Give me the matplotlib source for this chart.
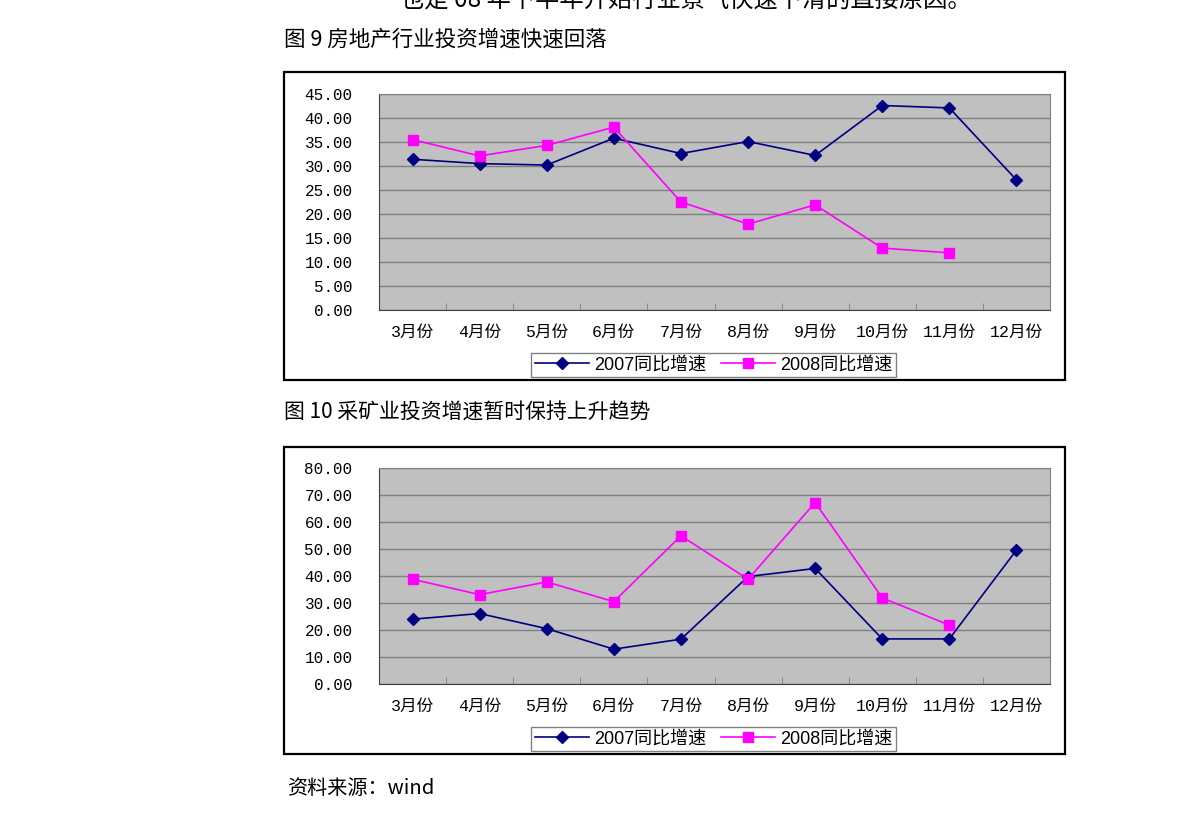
import numpy as np
import matplotlib
matplotlib.use("Agg")
import matplotlib.pyplot as plt
from matplotlib.patches import Rectangle

plt.rcParams['font.family'] = ['Noto Sans CJK SC', 'DejaVu Sans']

months = ["3月份", "4月份", "5月份", "6月份", "7月份", "8月份",
          "9月份", "10月份", "11月份", "12月份"]

# 图9 房地产
re_2007 = [31.4, 30.5, 30.2, 35.8, 32.6, 35.1, 32.2, 42.6, 42.1, 27.1]
re_2008 = [35.5, 32.1, 34.3, 38.1, 22.5, 17.9, 21.9, 12.9, 11.9]

# 图10 采矿业
mi_2007 = [24.0, 26.1, 20.5, 12.9, 16.6, 39.8, 42.8, 16.7, 16.7, 49.6]
mi_2008 = [38.8, 33.1, 37.8, 30.5, 54.9, 38.8, 67.2, 31.9, 21.8]

W, H = 1191, 818
fig = plt.figure(figsize=(W / 100, H / 100), dpi=100)

num_font = ['Liberation Mono', 'Noto Sans CJK SC']
leg_font = ['Liberation Sans', 'Noto Sans CJK SC']


def fx(px):
    return px / W


def fy(py):
    return 1 - py / H


def draw_chart(box_top, box_bot, ax_top, ax_bot, leg_y, s07, s08, ymax, ystep):
    fig.patches.append(Rectangle((fx(284), fy(box_bot)), fx(1065) - fx(284),
                                 fy(box_top) - fy(box_bot), transform=fig.transFigure,
                                 facecolor='white', edgecolor='black', lw=1.6, zorder=-1))
    ax = fig.add_axes([fx(379), fy(ax_bot), fx(1050) - fx(379), fy(ax_top) - fy(ax_bot)])
    ax.set_zorder(2)
    ax.set_facecolor('#C0C0C0')
    x = np.arange(len(months))
    ax.plot(x[:len(s07)], s07, color='#000080', marker='D', markersize=6, lw=1.2,
            label='2007同比增速', zorder=3)
    ax.plot(x[:len(s08)], s08, color='#FF00FF', marker='s', markersize=7, lw=1.2,
            label='2008同比增速', zorder=3)
    ax.set_xlim(-0.5, len(months) - 0.5)
    ax.set_ylim(0, ymax)
    yt = np.arange(0, ymax + 0.01, ystep)
    ax.set_yticks(yt)
    ax.set_yticklabels(["%.2f" % v for v in yt], family=num_font, fontsize=11.5)
    ax.yaxis.grid(True, color='#808080', lw=1)
    ax.set_axisbelow(True)
    ax.tick_params(axis='y', length=0, pad=19)
    ax.set_xticks(x)
    ax.set_xticklabels(months, family=num_font, fontsize=12)
    ax.tick_params(axis='x', which='major', length=0, pad=11)
    ax.set_xticks(np.arange(0.5, len(months) - 1, 1), minor=True)
    ax.tick_params(axis='x', which='minor', direction='in', length=5, color='#808080')
    for s in ['top', 'right']:
        ax.spines[s].set_color('#808080')
    for s in ['left', 'bottom']:
        ax.spines[s].set_color('#404040')
    ax.legend(loc='center', bbox_to_anchor=(fx(713.5), fy(leg_y)),
              bbox_transform=fig.transFigure, ncol=2, fancybox=False,
              edgecolor='#808080', framealpha=1, borderpad=0.2, handlelength=3,
              columnspacing=0.8, handletextpad=0.3, prop={'family': leg_font, 'size': 13})
    return ax


fig.text(fx(400), fy(0), "也是 08 年下半年开始行业景气快速下滑的直接原因。",
         fontsize=17.5, va='center', ha='left')
fig.text(fx(284), fy(40), "图 9 房地产行业投资增速快速回落", fontsize=15.5,
         va='center', ha='left')
draw_chart(72, 380, 94, 310, 365, re_2007, re_2008, 45, 5)

fig.text(fx(284), fy(413), "图 10 采矿业投资增速暂时保持上升趋势", fontsize=15,
         va='center', ha='left')
draw_chart(447, 754, 468, 684, 739, mi_2007, mi_2008, 80, 10)

fig.text(fx(287), fy(788), "资料来源：wind", fontsize=14.5, va='center', ha='left',
         family=['Noto Sans CJK SC', 'DejaVu Sans'])

fig.savefig("out.png", dpi=100)
